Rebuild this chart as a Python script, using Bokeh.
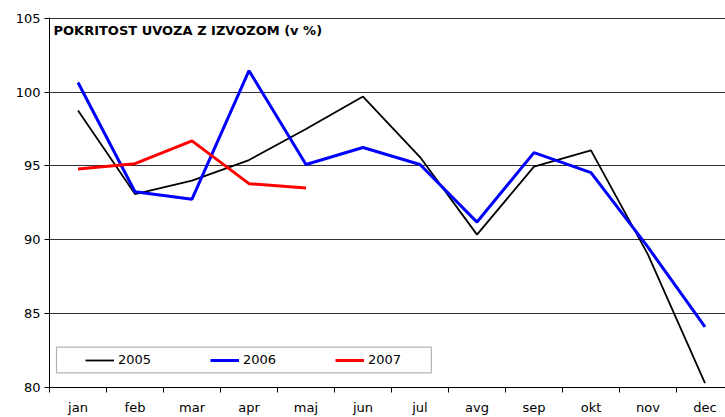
from bokeh.plotting import figure
from bokeh.models import (FixedTicker, Range1d, BoxAnnotation, Legend, LegendItem,
                          Label, CustomJSTickFormatter, ColumnDataSource)
from bokeh.embed import file_html
from bokeh.resources import INLINE

# ---- data ----
months = ["jan", "feb", "mar", "apr", "maj", "jun", "jul", "avg", "sep", "okt", "nov", "dec"]
y2005 = [98.75, 93.1, 94.0, 95.4, 97.5, 99.7, 95.6, 90.35, 94.95, 96.05, 89.0, 80.3]
y2006 = [100.65, 93.25, 92.75, 101.45, 95.1, 96.25, 95.1, 91.2, 95.9, 94.55, 89.5, 84.1]
y2007 = [94.8, 95.15, 96.7, 93.8, 93.5]
y_ticks = [80, 85, 90, 95, 100, 105]
title_text = "POKRITOST UVOZA Z IZVOZOM (v %)"

FONT = "DejaVu Sans"

xc = [i + 0.5 for i in range(len(months))]

p = figure(width=725, height=417, output_backend="svg", toolbar_location=None,
           x_range=Range1d(0, 11.86), y_range=Range1d(80, 105.05),
           min_border_left=49, min_border_right=0, min_border_top=17, min_border_bottom=27)
p.outline_line_color = None
p.background_fill_color = "white"
p.border_fill_color = "white"

# grid
p.xgrid.visible = False
p.ygrid.ticker = FixedTicker(ticks=y_ticks[1:])
p.ygrid.grid_line_color = "#303030"
p.ygrid.grid_line_width = 1

# y axis
p.yaxis.ticker = FixedTicker(ticks=y_ticks)
p.yaxis.axis_line_color = "black"
p.yaxis.major_tick_line_color = "black"
p.yaxis.major_tick_out = 5
p.yaxis.major_tick_in = 0
p.yaxis.minor_tick_line_color = None
p.yaxis.major_label_standoff = 4
p.yaxis.major_label_text_font = FONT
p.yaxis.major_label_text_font_size = "13px"
p.yaxis.major_label_text_color = "black"

# x axis: labels at category centres, ticks at boundaries
p.xaxis.ticker = FixedTicker(ticks=xc, minor_ticks=list(range(len(months) + 1)))
p.xaxis.formatter = CustomJSTickFormatter(args=dict(m=months),
                                          code="return m[Math.floor(tick)] || '';")
p.xaxis.axis_line_color = "black"
p.xaxis.major_tick_out = 0
p.xaxis.major_tick_in = 0
p.xaxis.minor_tick_out = 5
p.xaxis.minor_tick_in = 0
p.xaxis.minor_tick_line_color = "black"
p.xaxis.major_label_standoff = 7
p.xaxis.major_label_text_font = FONT
p.xaxis.major_label_text_font_size = "13px"
p.xaxis.major_label_text_color = "black"

# series
s05 = ColumnDataSource(dict(x=xc, y=y2005))
s06 = ColumnDataSource(dict(x=xc, y=y2006))
s07 = ColumnDataSource(dict(x=xc[:len(y2007)], y=y2007))
r05 = p.line("x", "y", source=s05, line_color="black", line_width=1.8)
r06 = p.line("x", "y", source=s06, line_color="#0000ff", line_width=3)
r07 = p.line("x", "y", source=s07, line_color="#ff0000", line_width=3)

# legend box
box = BoxAnnotation(left=0.123, right=6.70, bottom=80.99, top=82.74,
                    fill_color="white", fill_alpha=1.0,
                    line_color="black", line_width=1.2, level="overlay")
p.add_layout(box)

legend = Legend(items=[LegendItem(label="2005", renderers=[r05]),
                       LegendItem(label="2006", renderers=[r06]),
                       LegendItem(label="2007", renderers=[r07])],
                orientation="horizontal", location=(31, 15),
                padding=5, spacing=57, glyph_width=29, glyph_height=14,
                label_standoff=4, label_width=35,
                label_text_font=FONT, label_text_font_size="13px",
                label_text_color="black",
                border_line_alpha=0, background_fill_alpha=0)
p.add_layout(legend, "center")

# title inside plot
p.add_layout(Label(x=4, y=357, x_units="screen", y_units="screen", text=title_text,
                   text_font=FONT, text_font_size="13px", text_font_style="bold",
                   text_baseline="middle", text_color="black"))

open("out.html", "w").write(file_html(p, INLINE))
